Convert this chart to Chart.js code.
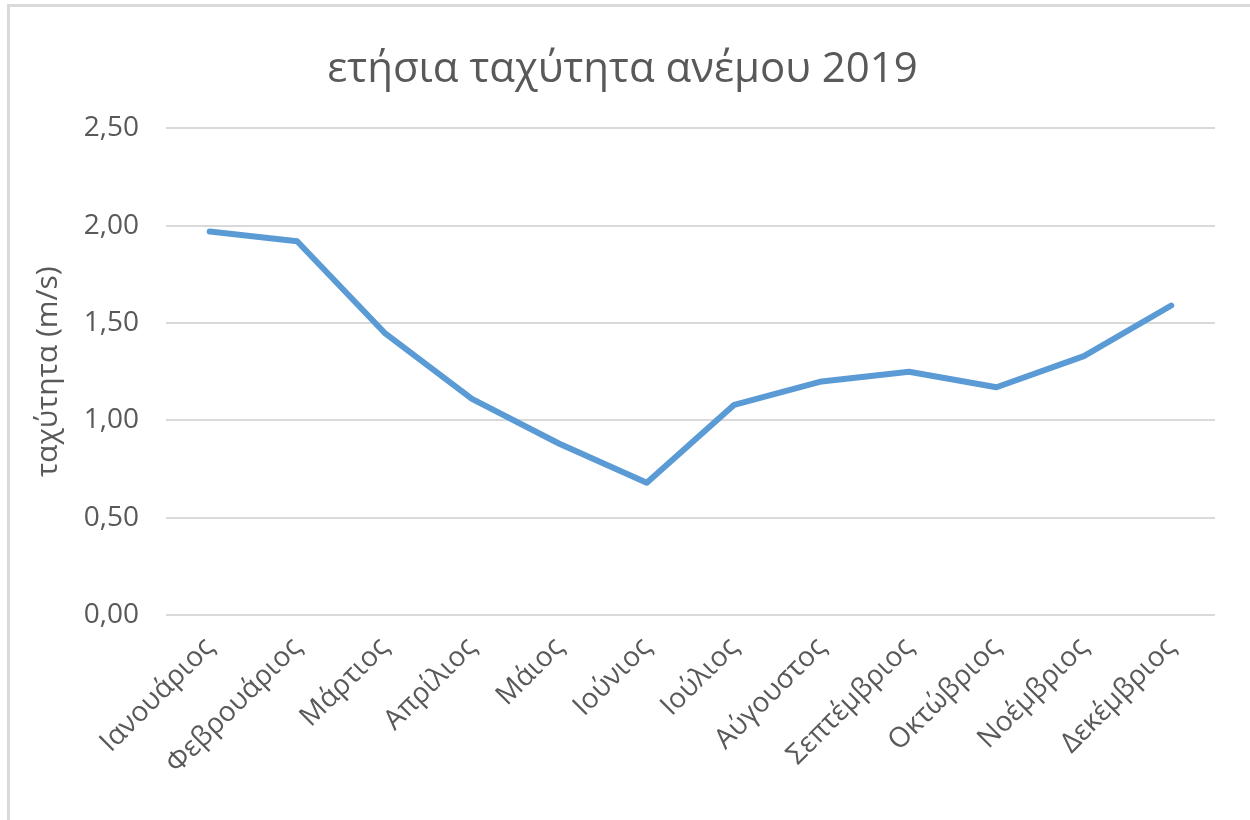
<!DOCTYPE html>
<html>
<head>
<meta charset="utf-8">
<script src="https://cdn.jsdelivr.net/npm/chart.js@4.4.1/dist/chart.umd.min.js"></script>
<style>
  html, body { margin: 0; padding: 0; background: #fff; }
  #wrap { position: relative; width: 1250px; height: 820px; }
  #frame {
    position: absolute; left: 7px; top: 4px; right: 0; bottom: 0;
    border-top: 3px solid #d9d9d9; border-left: 3px solid #d9d9d9;
    pointer-events: none;
  }
  canvas { position: absolute; left: 0; top: 0; }
</style>
</head>
<body>
<div id="wrap">
  <canvas id="windChart" width="1250" height="820"></canvas>
  <div id="frame"></div>
</div>
<script>
  const months = [
    "Ιανουάριος",
    "Φεβρουάριος",
    "Μάρτιος",
    "Απρίλιος",
    "Μάιος",
    "Ιούνιος",
    "Ιούλιος",
    "Αύγουστος",
    "Σεπτέμβριος",
    "Οκτώβριος",
    "Νοέμβριος",
    "Δεκέμβριος",
  ];
  const windSpeed = [1.97, 1.92, 1.45, 1.11, 0.88, 0.68, 1.08, 1.2, 1.25, 1.17, 1.33, 1.59];
  const yTicks = [0, 0.5, 1, 1.5, 2, 2.5];

  const textColor = "#595959";
  const fontFamily = "'Open Sans', sans-serif";

  const ctx = document.getElementById("windChart").getContext("2d");
  new Chart(ctx, {
    type: "line",
    data: {
      labels: months,
      datasets: [
        {
          label: "ταχύτητα",
          data: windSpeed,
          borderColor: "#5B9BD5",
          backgroundColor: "transparent",
          borderWidth: 6,
          pointRadius: 0,
          tension: 0,
          borderCapStyle: "round",
          borderJoinStyle: "round",
        },
      ],
    },
    options: {
      responsive: false,
      animation: false,
      layout: {
        padding: { left: 30, right: 35, top: 0, bottom: 0 },
      },
      plugins: {
        legend: { display: false },
        tooltip: { enabled: false },
        title: {
          display: true,
          text: "ετήσια ταχύτητα ανέμου 2019",
          color: textColor,
          font: { family: fontFamily, size: 42, weight: "normal" },
          padding: { top: 45, bottom: 33 },
        },
      },
      scales: {
        y: {
          min: yTicks[0],
          max: yTicks[yTicks.length - 1],
          afterBuildTicks: (scale) => {
            scale.ticks = yTicks.map((v) => ({ value: v }));
          },
          afterFit: (scale) => {
            scale.width = 136;
          },
          ticks: {
            color: textColor,
            padding: 27,
            font: { family: fontFamily, size: 28 },
            callback: (value) => value.toFixed(2).replace(".", ","),
          },
          grid: {
            color: "#d9d9d9",
            lineWidth: 2,
            drawTicks: false,
          },
          border: { display: false },
          title: {
            display: true,
            text: "ταχύτητα (m/s)",
            color: textColor,
            font: { family: fontFamily, size: 30 },
            padding: 0,
          },
        },
        x: {
          offset: true,
          afterFit: (scale) => {
            scale.height = 205;
          },
          ticks: {
            color: textColor,
            autoSkip: false,
            maxRotation: 45,
            minRotation: 45,
            padding: 16,
            font: { family: fontFamily, size: 28 },
          },
          grid: { display: false, drawTicks: false },
          border: { display: false },
        },
      },
    },
  });
</script>
</body>
</html>
